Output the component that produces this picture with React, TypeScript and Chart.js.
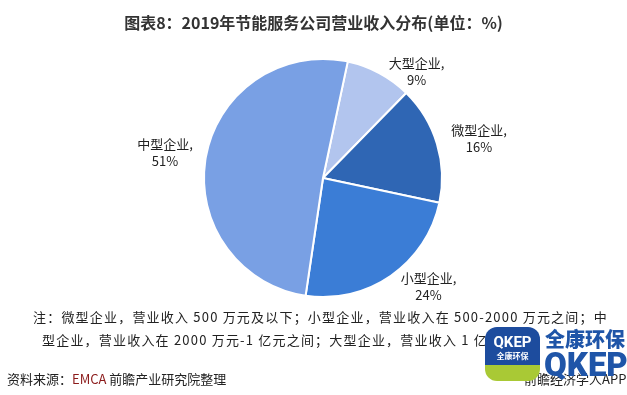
import React, { useEffect, useRef } from "react";
import { Chart, registerables } from "chart.js";

Chart.register(...registerables);

const categories = ["大型企业", "微型企业", "小型企业", "中型企业"];
const shares = [9, 16, 24, 51];
const sliceColors = ["#b2c5ee", "#2f66b4", "#3b7dd6", "#79a0e4"];
// label placement tweaks (angle offset in degrees, distance beyond radius in px)
const labelAngleShift = [13, 2.5, -9.5, -1];
const labelDistance = [23, 42, 32, 41];

const title = "图表8：2019年节能服务公司营业收入分布(单位：%)";
const noteLine1 = "注：微型企业，营业收入 500 万元及以下；小型企业，营业收入在 500-2000 万元之间；中";
const noteLine2 = "型企业，营业收入在 2000 万元-1 亿元之间；大型企业，营业收入 1 亿元以上。";

const labelPlugin = {
  id: "sliceLabels",
  afterDatasetsDraw(chart: any) {
    const ctx = chart.ctx;
    const meta = chart.getDatasetMeta(0);
    ctx.save();
    ctx.font = "13px 'Noto Sans CJK SC', sans-serif";
    ctx.fillStyle = "#222";
    ctx.textAlign = "center";
    ctx.textBaseline = "middle";
    meta.data.forEach((arc: any, i: number) => {
      const p = arc.getProps(["x", "y", "startAngle", "endAngle", "outerRadius"], true);
      const mid = (p.startAngle + p.endAngle) / 2 + (labelAngleShift[i] * Math.PI) / 180;
      const r = p.outerRadius + labelDistance[i];
      const cx = p.x + Math.cos(mid) * r;
      const cy = p.y + Math.sin(mid) * r;
      ctx.fillText(categories[i] + ",", cx, cy - 8);
      ctx.fillText(shares[i] + "%", cx, cy + 9);
    });
    ctx.restore();
  },
};

export default function App() {
  const ref = useRef<HTMLCanvasElement>(null);
  useEffect(() => {
    const chart = new Chart(ref.current!, {
      type: "pie",
      data: {
        labels: categories,
        datasets: [
          {
            data: shares,
            backgroundColor: sliceColors,
            borderColor: "#ffffff",
            borderWidth: 2,
          },
        ],
      },
      options: {
        animation: false,
        responsive: false,
        rotation: 12,
        layout: { padding: { left: 203, right: 184, top: 58, bottom: 97 } },
        plugins: { legend: { display: false }, tooltip: { enabled: false }, title: { display: false } },
      },
      plugins: [labelPlugin],
    });
    return () => chart.destroy();
  }, []);

  const font = "'Noto Sans CJK SC', 'Noto Sans', sans-serif";
  return (
    <div style={{ position: "fixed", left: 0, top: 0, width: 627, height: 395, background: "#fff", overflow: "hidden", fontFamily: font }}>
      <canvas ref={ref} width={627} height={395} style={{ position: "absolute", left: 0, top: 0 }} />
      <div style={{ position: "absolute", left: 0, width: 627, top: 10, textAlign: "center", fontSize: 16, fontWeight: 700, color: "#333" }}>
        {title}
      </div>
      <div style={{ position: "absolute", left: 33, top: 307, fontSize: 13, lineHeight: "19px", letterSpacing: "1.2px", color: "#222", whiteSpace: "nowrap" }}>{noteLine1}</div>
      <div style={{ position: "absolute", left: 42, top: 330, fontSize: 13, lineHeight: "19px", letterSpacing: "1.2px", color: "#222", whiteSpace: "nowrap" }}>{noteLine2}</div>
      <div style={{ position: "absolute", left: 7, top: 369, fontSize: 13, color: "#222", whiteSpace: "nowrap" }}>
        资料来源：<span style={{ color: "#8b1a1a" }}>EMCA</span> 前瞻产业研究院整理
      </div>
      <div style={{ position: "absolute", left: 524, top: 369, fontSize: 13, color: "#222", whiteSpace: "nowrap" }}>前瞻经济学人APP</div>
      <div style={{ position: "absolute", left: 485, top: 327, width: 55, height: 54, borderRadius: 12, background: "linear-gradient(#1d4c9e 0%, #1d4c9e 70%, #a9c935 70%)", color: "#fff", textAlign: "center", overflow: "hidden" }}>
        <div style={{ fontSize: 15, fontWeight: 700, lineHeight: "18px", marginTop: 6, fontFamily: "Roboto, sans-serif" }}>QKEP</div>
        <div style={{ fontSize: 8, fontWeight: 700, lineHeight: "10px" }}>全康环保</div>
      </div>
      <div style={{ position: "absolute", left: 545, top: 326, fontSize: 20, fontWeight: 900, color: "#1f55a8", whiteSpace: "nowrap", lineHeight: "26px", background: "#fff" }}>全康环保</div>
      <div style={{ position: "absolute", left: 544, top: 347, fontSize: 33, fontWeight: 900, color: "#1f55a8", whiteSpace: "nowrap", lineHeight: "36px", fontFamily: "Roboto, sans-serif" }}>QKEP</div>
    </div>
  );
}
